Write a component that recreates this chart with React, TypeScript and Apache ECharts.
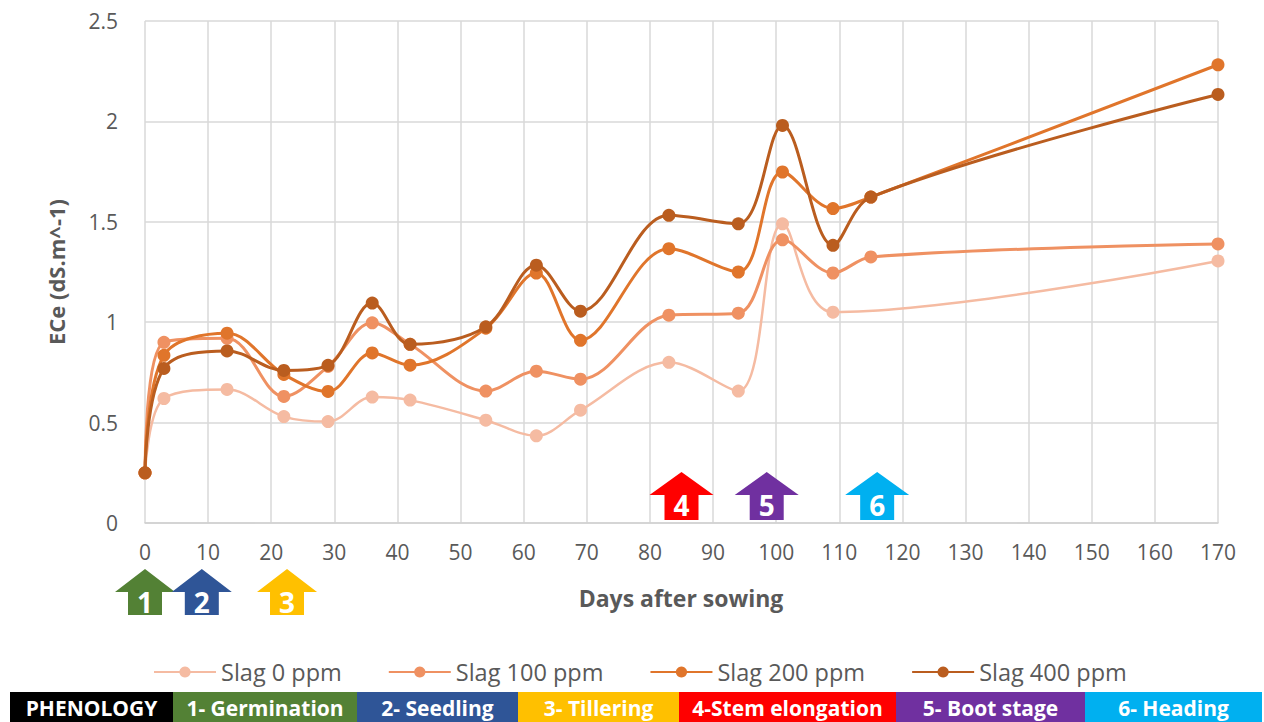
import React, { useEffect, useRef } from "react";
import * as echarts from "echarts";

const seriesNames = ["Slag 0 ppm", "Slag 100 ppm", "Slag 200 ppm", "Slag 400 ppm"];
const seriesColors = ["#F5BBA2", "#EF9162", "#E0752B", "#BA5D1F"];

const daysSlag0 = [0, 3, 13, 22, 29, 36, 42, 54, 62, 69, 83, 94, 101, 109, 170];
const slag0 = [0.25, 0.62, 0.665, 0.53, 0.505, 0.627, 0.612, 0.512, 0.434, 0.562, 0.8, 0.657, 1.49, 1.05, 1.305];

const daysOther = [0, 3, 13, 22, 29, 36, 42, 54, 62, 69, 83, 94, 101, 109, 115, 170];
const slag100 = [0.25, 0.9, 0.92, 0.63, 0.78, 0.997, 0.89, 0.657, 0.756, 0.716, 1.035, 1.045, 1.41, 1.245, 1.325, 1.39];
const slag200 = [0.25, 0.835, 0.945, 0.74, 0.655, 0.847, 0.786, 0.97, 1.245, 0.91, 1.366, 1.25, 1.748, 1.566, 1.623, 2.282];
const slag400 = [0.25, 0.77, 0.857, 0.76, 0.785, 1.095, 0.89, 0.977, 1.284, 1.055, 1.532, 1.49, 1.98, 1.383, 1.623, 2.134];

const xMin = 0, xMax = 170, xStep = 10;
const yMin = 0, yMax = 2.5, yStep = 0.5;

const stageNumbers = ["1", "2", "3", "4", "5", "6"];
const stageDays = [0, 9, 22.5, 85, 98.5, 116];
const stageColors = ["#538135", "#2F5597", "#FFC000", "#FF0000", "#7030A0", "#00B0F0"];
const phenologyLabels = ["PHENOLOGY", "1- Germination", "2- Seedling", "3- Tillering", "4-Stem elongation", "5- Boot stage", "6- Heading"];
const phenologyColors = ["#000000", ...stageColors];

// layout
const barEdges = [10, 173, 357, 518, 679, 896, 1085, 1262];
const FONT = "'Open Sans', 'Liberation Sans', sans-serif";

function zip(d: number[], v: number[]) {
  return d.map((x, i) => [x, v[i]]);
}

export default function App() {
  const ref = useRef<HTMLDivElement>(null);
  useEffect(() => {
    if (!ref.current) return;
    const chart = echarts.init(ref.current, undefined, { renderer: "svg" });
    const data = [zip(daysSlag0, slag0), zip(daysOther, slag100), zip(daysOther, slag200), zip(daysOther, slag400)];
    chart.setOption({
      animation: false,
      backgroundColor: "#ffffff",
      grid: { left: 145, top: 21, width: 1073, height: 502, containLabel: false },
      xAxis: {
        type: "value",
        min: xMin,
        max: xMax,
        interval: xStep,
        axisLine: { show: true, lineStyle: { color: "#D0D0D0", width: 1.5 } },
        axisTick: { show: false },
        axisLabel: { color: "#595959", fontSize: 21, fontFamily: FONT, margin: 18 },
        splitLine: { show: true, lineStyle: { color: "#D9D9D9", width: 1.5 } },
      },
      yAxis: {
        type: "value",
        min: yMin,
        max: yMax,
        interval: yStep,
        axisLine: { show: false },
        axisTick: { show: false },
        axisLabel: { color: "#595959", fontSize: 21, fontFamily: FONT, margin: 27 },
        splitLine: { show: true, lineStyle: { color: "#D9D9D9", width: 1.5 } },
      },
      legend: {
        left: 148,
        top: 655,
        itemWidth: 62,
        itemHeight: 14,
        itemGap: 46,
        textStyle: { color: "#595959", fontSize: 23.5, fontFamily: FONT },
        data: seriesNames,
      },
      series: seriesNames.map((name, i) => ({
        name,
        type: "line",
        data: data[i],
        smooth: 0.35,
        symbol: "circle",
        symbolSize: 13,
        showSymbol: true,
        lineStyle: { color: seriesColors[i], width: i === 0 ? 2.5 : 3 },
        itemStyle: { color: seriesColors[i] },
        z: 2 + i,
      })),
    });

    const graphics: any[] = [];
    // axis titles
    graphics.push({
      type: "text",
      x: 56,
      y: 272,
      rotation: Math.PI / 2,
      style: { text: "ECe (dS.m^-1)", font: `bold 22px ${FONT}`, fill: "#595959", align: "center", verticalAlign: "middle", textAlign: "center", textVerticalAlign: "middle" },
    });
    graphics.push({
      type: "text",
      x: 681,
      y: 598,
      style: { text: "Days after sowing", font: `bold 23px ${FONT}`, fill: "#595959", align: "center", verticalAlign: "middle", textAlign: "center", textVerticalAlign: "middle" },
    });
    // arrows
    const y0 = chart.convertToPixel({ yAxisIndex: 0 }, 0) as number;
    stageDays.forEach((d, i) => {
      const cx = chart.convertToPixel({ xAxisIndex: 0 }, d) as number;
      const below = i < 3;
      const w = below ? 60 : 64;
      const h = below ? 46 : 48;
      const top = below ? y0 + 46 : y0 - 3 - h;
      const hw = w / 2, sw = 17, hh = 23;
      graphics.push({
        type: "polygon",
        z: 10,
        shape: {
          points: [
            [cx, top], [cx + hw, top + hh], [cx + sw, top + hh], [cx + sw, top + h],
            [cx - sw, top + h], [cx - sw, top + hh], [cx - hw, top + hh],
          ],
        },
        style: { fill: stageColors[i] },
      });
      graphics.push({
        type: "text",
        z: 11,
        x: cx,
        y: top + hh + 10,
        style: { text: stageNumbers[i], font: `bold 28px ${FONT}`, fill: "#ffffff", align: "center", verticalAlign: "middle", textAlign: "center", textVerticalAlign: "middle" },
      });
    });
    // phenology bar
    phenologyLabels.forEach((lab, i) => {
      const x0 = barEdges[i], x1 = barEdges[i + 1];
      graphics.push({
        type: "rect",
        z: 10,
        shape: { x: x0, y: 692, width: x1 - x0, height: 32 },
        style: { fill: phenologyColors[i] },
      });
      graphics.push({
        type: "text",
        z: 11,
        x: (x0 + x1) / 2,
        y: 708,
        style: { text: lab, font: `bold 21px ${FONT}`, fill: "#ffffff", align: "center", verticalAlign: "middle", textAlign: "center", textVerticalAlign: "middle" },
      });
    });
    chart.setOption({ graphic: graphics });
    return () => chart.dispose();
  }, []);
  return <div ref={ref} style={{ position: "absolute", left: 0, top: 0, width: 1264, height: 722 }} />;
}
